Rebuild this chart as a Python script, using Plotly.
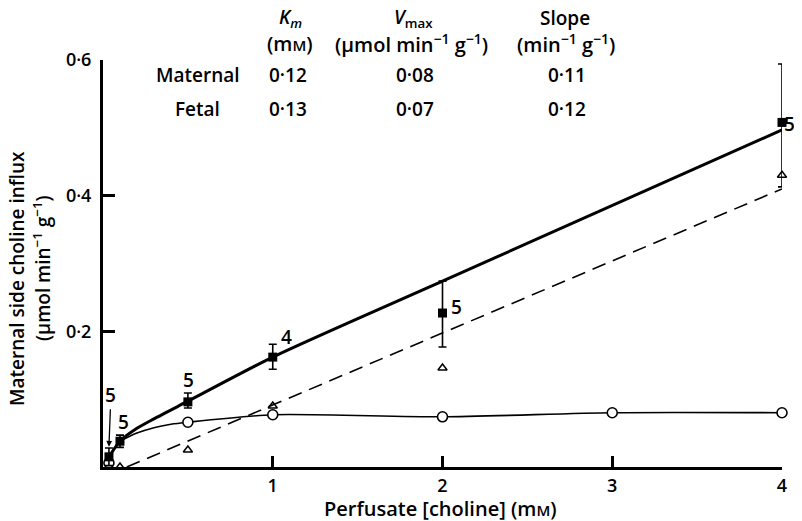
import plotly.graph_objects as go

# ---- data ----
# Maternal side influx (filled squares, mean +/- s.e.m.)
mat_x = [0.035, 0.1, 0.5, 1.0, 2.0, 4.0]
mat_y = [0.015, 0.038, 0.096, 0.162, 0.227, 0.508]
mat_err_plus = [0.013, 0.009, 0.013, 0.019, 0.047, 0.086]
mat_err_minus = [0.013, 0.009, 0.009, 0.018, 0.050, 0.095]
mat_n = ["5", "5", "5", "4", "5", "5"]

# saturable component (open circles)
sat_x = [0.035, 0.5, 1.0, 2.0, 3.0, 4.0]
sat_y = [0.006, 0.066, 0.077, 0.074, 0.080, 0.080]

# linear component (open triangles)
lin_x = [0.1, 0.5, 1.0, 2.0, 4.0]
lin_y = [0.0, 0.025, 0.090, 0.146, 0.430]

# fitted curves
fit_total_x = [0.035, 0.1, 0.2, 0.3, 0.5, 1.0, 2.0, 4.0]
fit_total_y = [0.015, 0.038, 0.057, 0.071, 0.097, 0.162, 0.274, 0.497]
fit_sat_x = [0.1, 0.2, 0.3, 0.4, 0.5, 1.0, 2.0, 3.0, 4.0]
fit_sat_y = [0.038, 0.050, 0.058, 0.063, 0.066, 0.077, 0.074, 0.080, 0.080]
fit_lin_x = [0.14, 4.0]
fit_lin_y = [0.0, 0.41]

# table
table_cols = ["<i>K</i><sub><i>m</i></sub>", "<i>V</i><sub>max</sub>", "Slope"]
table_units = ["(m<span style='font-size:15px'>M</span>)",
               "(μmol min<sup>−1</sup> g<sup>−1</sup>)",
               "(min<sup>−1</sup> g<sup>−1</sup>)"]
table_rows = ["Maternal", "Fetal"]
table_vals = [["0·12", "0·08", "0·11"], ["0·13", "0·07", "0·12"]]

x_ticks = [1, 2, 3, 4]
x_ticktext = ["1", "2", "3", "4"]
y_ticks = [0.2, 0.4, 0.6]
y_ticktext = ["0·2", "0·4", "0·6"]

FONT = "Open Sans"
FW = 600
OFF = 8  # page body margin
L, R, T, B = 103, 782, 60, 467  # plot area in window pixels


def pp(px, py):
    return (px - L) / (R - L), (B - py) / (B - T)


def f(size=19):
    return dict(family=FONT, size=size, color="black", weight=FW)


fig = go.Figure()

fig.add_trace(go.Scatter(x=fit_lin_x, y=fit_lin_y, mode="lines",
                         line=dict(color="black", width=1.6, dash="14px,8px"),
                         cliponaxis=False, showlegend=False))
fig.add_trace(go.Scatter(x=fit_sat_x, y=fit_sat_y, mode="lines",
                         line=dict(color="black", width=1.6, shape="spline", smoothing=0.7),
                         cliponaxis=False, showlegend=False))
fig.add_trace(go.Scatter(x=fit_total_x, y=fit_total_y, mode="lines",
                         line=dict(color="black", width=3, shape="spline", smoothing=0.7),
                         cliponaxis=False, showlegend=False))

fig.add_trace(go.Scatter(x=lin_x, y=lin_y, mode="markers",
                         marker=dict(symbol="triangle-up-open", size=8, color="black",
                                     line=dict(width=1.5, color="black")),
                         cliponaxis=False, showlegend=False))
fig.add_trace(go.Scatter(x=sat_x, y=sat_y, mode="markers",
                         marker=dict(symbol="circle", size=10, color="white",
                                     line=dict(width=1.6, color="black")),
                         cliponaxis=False, showlegend=False))
fig.add_trace(go.Scatter(x=mat_x, y=mat_y, mode="markers",
                         marker=dict(symbol="square", size=9, color="black"),
                         error_y=dict(type="data", symmetric=False, array=mat_err_plus,
                                      arrayminus=mat_err_minus, color="black",
                                      thickness=1.6, width=4),
                         cliponaxis=False, showlegend=False))

ann = []


def txt(px, py, text, size=19, angle=0):
    x, y = pp(px, py)
    ann.append(dict(x=x, y=y, xref="paper", yref="paper", text=text, showarrow=False,
                    xanchor="center", yanchor="middle", textangle=angle, font=f(size)))


# n labels
n_pos = [(110, 395), (123, 422), (188, 380), (286, 337), (456, 307), (789, 124)]
for i, (px, py) in enumerate(n_pos):
    if i == 0:
        ann.append(dict(x=mat_x[0], y=mat_y[0] + mat_err_plus[0] + 0.002, xref="x", yref="y",
                        text=mat_n[i], showarrow=True, arrowhead=2, arrowsize=0.9,
                        arrowwidth=1.3, arrowcolor="black", ax=2, ay=-52, font=f(19)))
    else:
        txt(px, py, mat_n[i])

# table
col_px = [290, 413, 565]
unit_px = [290, 411, 566]
val_px = [288, 415, 567]
for j in range(3):
    txt(col_px[j], 18, table_cols[j])
    txt(unit_px[j], 43, table_units[j], size=20)
row_py = [75, 109]
row_px = [198, 197]
for i in range(2):
    txt(row_px[i], row_py[i], table_rows[i])
    for j in range(3):
        txt(val_px[j], row_py[i], table_vals[i][j])

# axis titles
txt(440, 508, "Perfusate [choline] (m<span style='font-size:15px'>M</span>)", size=20)
txt(17, 279, "Maternal side choline influx", angle=-90)
txt(42, 268, "(μmol min<sup>−1</sup> g<sup>−1</sup>)", angle=-90)

fig.update_layout(
    width=802 - OFF, height=521 - OFF, autosize=False,
    margin=dict(l=L - OFF, r=802 - R, t=T - OFF, b=521 - B, pad=0),
    paper_bgcolor="white", plot_bgcolor="white",
    font=f(18),
    annotations=ann,
    xaxis=dict(range=[0, 4], showgrid=False, zeroline=False, showline=True,
               linecolor="black", linewidth=3, ticks="inside", ticklen=11, tickwidth=2.5,
               tickcolor="black", tickvals=x_ticks, ticktext=x_ticktext,
               tickfont=f(18), ticklabelstandoff=0),
    yaxis=dict(range=[0, 0.6], showgrid=False, zeroline=False, showline=True,
               linecolor="black", linewidth=3, ticks="inside", ticklen=12, tickwidth=2.5,
               tickcolor="black", tickvals=y_ticks, ticktext=y_ticktext,
               tickfont=f(18), ticklabelstandoff=5),
)

fig.write_html("out.html")
